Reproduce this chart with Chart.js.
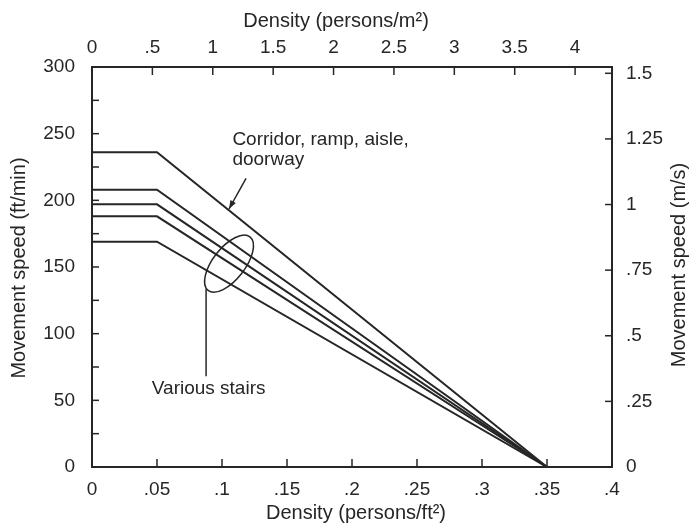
<!DOCTYPE html>
<html>
<head>
<meta charset="utf-8">
<script src="https://cdn.jsdelivr.net/npm/chart.js@4.4.0/dist/chart.umd.min.js"></script>
<style>
  body { margin: 0; background: #fff; }
  canvas { display: block; }
</style>
</head>
<body>
<canvas id="myGraph" width="691" height="525"></canvas>
<script>
// Movement speed vs. density, corridors and stairs

// density break points (persons/ft2)
var densityFt = [0, 0.05, 0.35];

// speed at those densities (ft/min)
var corridorSpeed = [236, 236, 0];
var stairSpeed1 = [208, 208, 0];
var stairSpeed2 = [197, 197, 0];
var stairSpeed3 = [188, 188, 0];
var stairSpeed4 = [169, 169, 0];

// tick labels
var bottomTicks = ["0", ".05", ".1", ".15", ".2", ".25", ".3", ".35", ".4"];
var topTicks = ["0", ".5", "1", "1.5", "2", "2.5", "3", "3.5", "4"];
var leftTicks = ["0", "50", "100", "150", "200", "250", "300"];
var rightTicks = ["0", ".25", ".5", ".75", "1", "1.25", "1.5"];

var corridorLabel = ["Corridor, ramp, aisle,", "doorway"];
var stairsLabel = "Various stairs";
var titleTop = "Density (persons/m\u00b2)";
var titleBottom = "Density (persons/ft\u00b2)";
var titleLeft = "Movement speed (ft/min)";
var titleRight = "Movement speed (m/s)";

var ink = "#262626";
var fam = "'Liberation Sans', Arial, Helvetica, sans-serif";
var M2_PER_FT2 = 10.7639;
var MS_PER_FTMIN = 0.3048 / 60;

function toPoints(speeds) {
  return densityFt.map(function(d, i) { return { x: d, y: speeds[i] }; });
}

function series(speeds) {
  return {
    data: toPoints(speeds),
    borderColor: ink,
    borderWidth: 2,
    pointRadius: 0,
    tension: 0,
    fill: false,
    xAxisID: "x",
    yAxisID: "y"
  };
}

function px(chart, d, s) {
  return { x: chart.scales.x.getPixelForValue(d), y: chart.scales.y.getPixelForValue(s) };
}

// tick marks point into the plot
var inwardTicks = {
  id: "inwardTicks",
  afterDraw: function(chart) {
    var ctx = chart.ctx;
    var a = chart.chartArea;
    ctx.save();
    ctx.strokeStyle = ink;
    ctx.lineWidth = 1.5;
    ["x", "x2", "y", "y2"].forEach(function(id) {
      var scale = chart.scales[id];
      scale.ticks.forEach(function(t) {
        var p = scale.getPixelForValue(t.value);
        ctx.beginPath();
        if (id == "x") { ctx.moveTo(p, a.bottom); ctx.lineTo(p, a.bottom - 8); }
        if (id == "x2") { ctx.moveTo(p, a.top); ctx.lineTo(p, a.top + 8); }
        if (id == "y") { ctx.moveTo(a.left, p); ctx.lineTo(a.left + 7, p); }
        if (id == "y2") { ctx.moveTo(a.right, p); ctx.lineTo(a.right - 7, p); }
        ctx.stroke();
      });
    });
    ctx.restore();
  }
};

// axis titles, both side titles read bottom to top
var axisTitles = {
  id: "axisTitles",
  afterDraw: function(chart) {
    var ctx = chart.ctx;
    ctx.save();
    ctx.fillStyle = ink;
    ctx.font = "20px " + fam;
    ctx.textAlign = "center";
    ctx.textBaseline = "middle";
    ctx.fillText(titleTop, 336, 21);
    ctx.fillText(titleBottom, 356, 513);
    ctx.save();
    ctx.translate(19, 268);
    ctx.rotate(-Math.PI / 2);
    ctx.fillText(titleLeft, 0, 0);
    ctx.restore();
    ctx.translate(679, 265);
    ctx.rotate(-Math.PI / 2);
    ctx.fillText(titleRight, 0, 0);
    ctx.restore();
  }
};

// labels, arrow and the ellipse round the stair lines
var notes = {
  id: "notes",
  afterDraw: function(chart) {
    var ctx = chart.ctx;
    ctx.save();
    ctx.fillStyle = ink;
    ctx.strokeStyle = ink;
    ctx.font = "19px " + fam;
    ctx.textBaseline = "alphabetic";

    var p = px(chart, 0.108, 241.5);
    ctx.fillText(corridorLabel[0], p.x, p.y);
    ctx.fillText(corridorLabel[1], p.x, p.y + 20);

    var a = px(chart, 0.1185, 216.5);
    var b = px(chart, 0.1054, 193.5);
    ctx.lineWidth = 1.5;
    ctx.beginPath();
    ctx.moveTo(a.x, a.y);
    ctx.lineTo(b.x, b.y);
    ctx.stroke();
    var ang = Math.atan2(b.y - a.y, b.x - a.x);
    ctx.beginPath();
    ctx.moveTo(b.x, b.y);
    ctx.lineTo(b.x - 9 * Math.cos(ang - 0.35), b.y - 9 * Math.sin(ang - 0.35));
    ctx.lineTo(b.x - 9 * Math.cos(ang + 0.35), b.y - 9 * Math.sin(ang + 0.35));
    ctx.closePath();
    ctx.fill();

    var c = px(chart, 0.1054, 152.5);
    var rot = -52 * Math.PI / 180;
    ctx.beginPath();
    ctx.ellipse(c.x, c.y, 34, 16, rot, 0, 2 * Math.PI);
    ctx.stroke();

    // pointer from the lower tip of the ellipse down to the label
    var tipX = c.x - 34 * Math.cos(rot) - 2;
    var tipY = c.y - 34 * Math.sin(rot) - 2;
    var end = px(chart, 0.0854, 68);
    ctx.beginPath();
    ctx.moveTo(tipX, tipY);
    ctx.lineTo(tipX, end.y);
    ctx.stroke();

    var v = px(chart, 0.046, 55);
    ctx.fillText(stairsLabel, v.x, v.y);
    ctx.restore();
  }
};

var tickFont = { family: fam, size: 19 };

var graph = document.getElementById("myGraph").getContext("2d");

var speedChart = new Chart(graph, {
  type: "line",
  data: {
    datasets: [
      series(corridorSpeed),
      series(stairSpeed1),
      series(stairSpeed2),
      series(stairSpeed3),
      series(stairSpeed4)
    ]
  },
  options: {
    responsive: false,
    animation: false,
    layout: { padding: 0 },
    plugins: {
      legend: { display: false },
      tooltip: { enabled: false }
    },
    scales: {
      x: {
        type: "linear",
        position: "bottom",
        min: 0,
        max: 0.4,
        grid: { display: false },
        border: { display: true, color: ink, width: 2 },
        ticks: {
          stepSize: 0.05,
          color: ink,
          font: tickFont,
          padding: 3,
          maxRotation: 0,
          callback: function(v) { return bottomTicks[Math.round(v / 0.05)]; }
        },
        afterFit: function(s) { s.height = 58; }
      },
      x2: {
        type: "linear",
        position: "top",
        min: 0,
        max: 0.4 * M2_PER_FT2,
        grid: { display: false },
        border: { display: true, color: ink, width: 2 },
        ticks: {
          stepSize: 0.5,
          includeBounds: false,
          color: ink,
          font: tickFont,
          padding: 0,
          maxRotation: 0,
          callback: function(v) { return topTicks[Math.round(v / 0.5)]; }
        },
        afterFit: function(s) { s.height = 67; }
      },
      y: {
        type: "linear",
        position: "left",
        min: 0,
        max: 300,
        grid: { display: false },
        border: { display: true, color: ink, width: 2 },
        ticks: {
          stepSize: 25,
          color: ink,
          font: tickFont,
          padding: 9,
          callback: function(v) { return v % 50 === 0 ? leftTicks[v / 50] : ""; }
        },
        afterFit: function(s) { s.width = 92; }
      },
      y2: {
        type: "linear",
        position: "right",
        min: 0,
        max: 300 * MS_PER_FTMIN,
        grid: { display: false },
        border: { display: true, color: ink, width: 2 },
        ticks: {
          stepSize: 0.25,
          includeBounds: false,
          color: ink,
          font: tickFont,
          padding: 6,
          callback: function(v) { return rightTicks[Math.round(v / 0.25)]; }
        },
        afterFit: function(s) { s.width = 79; }
      }
    }
  },
  plugins: [inwardTicks, axisTitles, notes]
});
</script>
</body>
</html>
